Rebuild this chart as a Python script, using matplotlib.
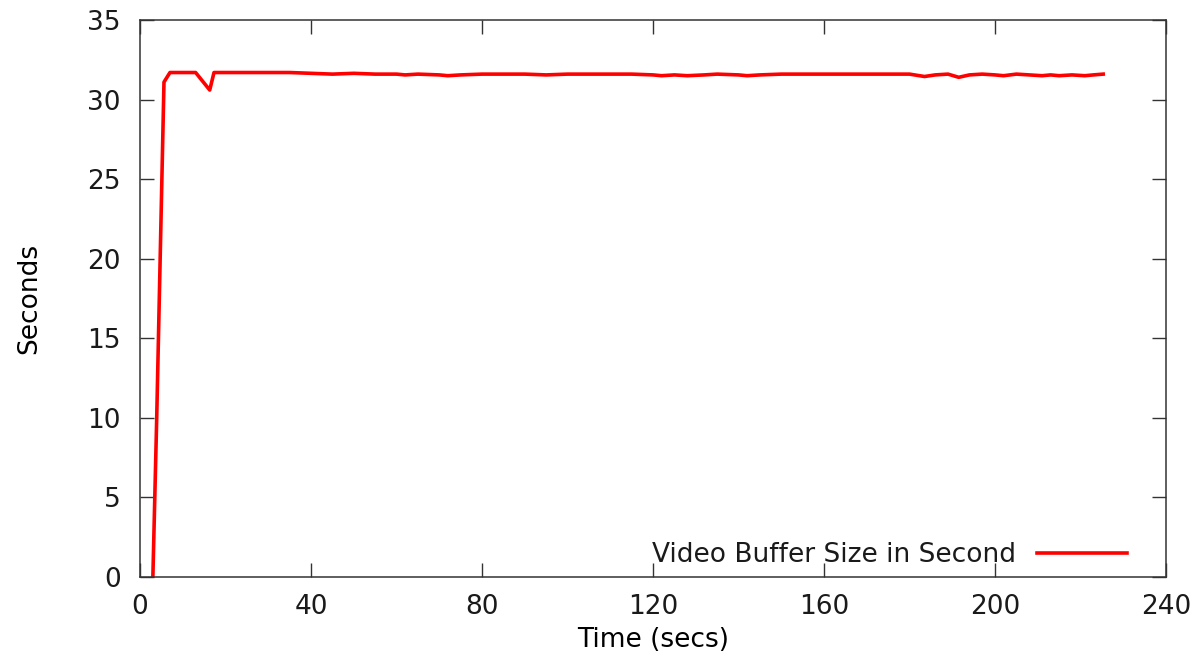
import matplotlib
matplotlib.use("Agg")
import matplotlib.pyplot as plt

# video buffer occupancy
time_s = [3.0, 3.9, 5.6, 7.0, 10.0, 13.0, 16.3, 17.3, 20.0, 25.0, 30.0, 35.0,
          40.0, 45.0, 50.0, 55.0, 60.0, 62.0, 65.0, 70.0, 72.0, 75.0, 80.0,
          85.0, 90.0, 95.0, 100.0, 105.0, 110.0, 115.0, 120.0, 122.0, 125.0,
          128.0, 132.0, 135.0, 140.0, 142.0, 145.0, 150.0, 155.0, 160.0,
          165.0, 170.0, 175.0, 180.0, 183.5, 186.0, 189.0, 191.5, 194.0,
          197.0, 200.0, 202.0, 205.0, 208.0, 211.0, 213.0, 215.0, 218.0,
          221.0, 223.0, 225.3]
buffer_s = [0.0, 10.0, 31.1, 31.7, 31.7, 31.7, 30.6, 31.7, 31.7, 31.7, 31.7,
            31.7, 31.65, 31.6, 31.65, 31.6, 31.6, 31.55, 31.6, 31.55, 31.5,
            31.55, 31.6, 31.6, 31.6, 31.55, 31.6, 31.6, 31.6, 31.6, 31.55,
            31.5, 31.55, 31.5, 31.55, 31.6, 31.55, 31.5, 31.55, 31.6, 31.6,
            31.6, 31.6, 31.6, 31.6, 31.6, 31.45, 31.55, 31.6, 31.4, 31.55,
            31.6, 31.55, 31.5, 31.6, 31.55, 31.5, 31.55, 31.5, 31.55, 31.5,
            31.55, 31.6]

x_ticks = [0, 40, 80, 120, 160, 200, 240]
y_ticks = [0, 5, 10, 15, 20, 25, 30, 35]

plt.rcParams["font.family"] = ["DejaVu Sans"]
plt.rcParams["text.color"] = "#1a1a1a"
plt.rcParams["xtick.labelcolor"] = "#1a1a1a"
plt.rcParams["ytick.labelcolor"] = "#1a1a1a"
FS = 19

fig = plt.figure(figsize=(11.99, 6.56), dpi=100)
ax = fig.add_axes([0.1168, 0.1204, 0.8557, 0.8491])

ax.plot(time_s, buffer_s, color="#ff0000", linewidth=2.6,
        label="Video Buffer Size in Second")

ax.set_xlim(0, 240)
ax.set_ylim(0, 35)
ax.set_xticks(x_ticks)
ax.set_yticks(y_ticks)
ax.tick_params(direction="in", length=10, width=1.0, color="#333333",
               labelsize=FS, top=True, right=True)
ax.tick_params(axis="x", pad=12)
ax.tick_params(axis="y", pad=14)
for sp in ax.spines.values():
    sp.set_color("#333333")
    sp.set_linewidth(1.1)

ax.set_xlabel("Time (secs)", fontsize=FS, labelpad=5)
ax.set_ylabel("Seconds", fontsize=FS, labelpad=32)

# gnuplot-style key: text first, sample line on the right
ax.legend(loc="center right", bbox_to_anchor=((1127 - 140) / 1026, 22 / 557),
          frameon=False, markerfirst=False, fontsize=FS,
          handlelength=3.4, handletextpad=0.8, borderpad=0,
          borderaxespad=0)

fig.savefig("out.png", dpi=100)
